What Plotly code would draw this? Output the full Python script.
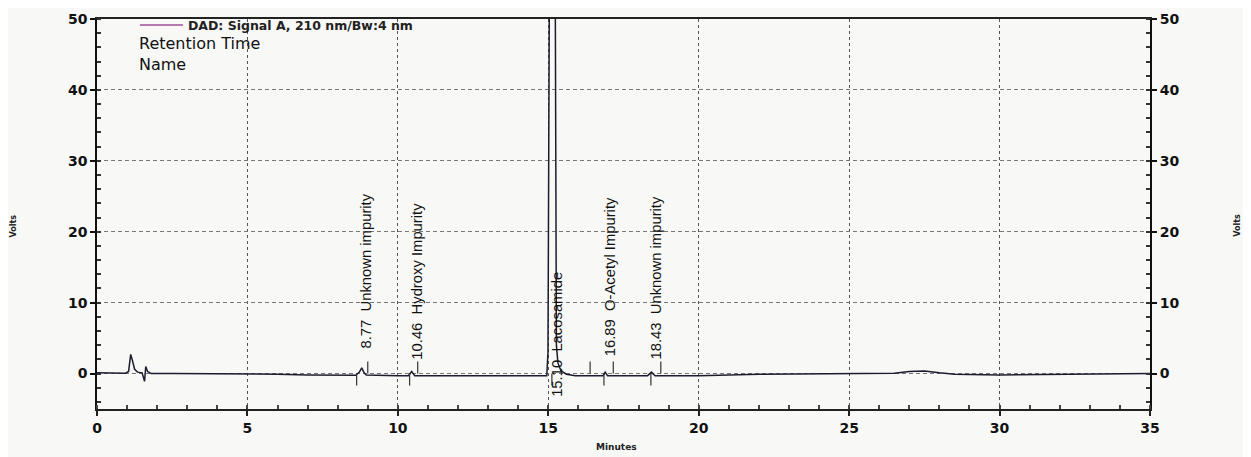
import plotly.graph_objects as go

# ---- data ----
time_min = [0.0, 0.5, 0.95, 1.05, 1.12, 1.18, 1.25, 1.35, 1.5, 1.58, 1.62, 1.68, 1.8, 2.5, 4.0, 5.0,
            6.0, 7.0, 8.0, 8.6, 8.72, 8.8, 8.88, 8.95, 10.0, 10.35, 10.46, 10.56, 12.0, 14.0, 14.95,
            14.99, 15.02, 15.05, 15.15, 15.22, 15.25, 15.27, 15.32, 15.42, 15.6, 15.9, 16.5, 16.82,
            16.89, 16.97, 18.3, 18.43, 18.55, 20.0, 22.0, 25.0, 26.5, 27.0, 27.5, 28.0, 28.5, 30.0,
            32.0, 35.0]
volts = [0.1, 0.05, 0.05, 0.3, 2.7, 1.8, 0.6, 0.2, 0.1, -1.1, 1.0, 0.3, 0.0, 0.0, -0.05, 0.0,
         -0.1, -0.2, -0.2, -0.25, 0.2, 0.8, 0.1, -0.2, -0.3, -0.3, 0.3, -0.3, -0.3, -0.3, -0.3,
         3.0, 40.0, 70.0, 90.0, 70.0, 30.0, 4.0, 1.5, 0.4, -0.1, -0.3, -0.3, -0.3,
         0.2, -0.3, -0.3, 0.2, -0.3, -0.3, -0.1, 0.0, 0.05, 0.3, 0.35, 0.1, -0.1, -0.2,
         -0.15, 0.0]

peak_rt = [8.77, 10.46, 15.10, 16.89, 18.43]
peak_name = ["Unknown impurity", "Hydroxy Impurity", "Lacosamide", "O-Acetyl Impurity", "Unknown impurity"]
peak_start = [8.63, 10.39, 15.12, 16.85, 18.41]
peak_end = [9.00, 10.66, 16.39, 17.16, 18.74]

signal_name = "DAD: Signal A, 210 nm/Bw:4 nm"
header_lines = ["Retention Time", "Name"]
x_ticks = [0, 5, 10, 15, 20, 25, 30, 35]
y_ticks = [0, 10, 20, 30, 40, 50]

# ---- styling ----
label_base = [3.3, 1.7, -3.6, 2.1, 1.7]
MARK_LEN = 1.7
BG = "#f8f8f6"

fig = go.Figure()

fig.add_trace(go.Scatter(x=time_min, y=volts, mode="lines", showlegend=False,
                         line=dict(color="#1c1c30", width=1.5), hoverinfo="skip"))

# event marks: start (down) and end (up)
mx, my = [], []
for t in peak_start:
    mx += [t, t, None]
    my += [0, -MARK_LEN, None]
for t in peak_end:
    mx += [t, t, None]
    my += [0, MARK_LEN, None]
fig.add_trace(go.Scatter(x=mx, y=my, mode="lines", showlegend=False,
                         line=dict(color="#333", width=1.2), hoverinfo="skip"))

# legend-only entry
fig.add_trace(go.Scatter(x=[None], y=[None], mode="lines", name=signal_name,
                         line=dict(color="#a0509a", width=1.5)))

# dummy trace for right axis
fig.add_trace(go.Scatter(x=[None], y=[None], yaxis="y2", showlegend=False, hoverinfo="skip"))

annotations = []
for rt, nm, yb in zip(peak_rt, peak_name, label_base):
    annotations.append(dict(x=rt, y=yb, xref="x", yref="y", text=f"{rt:.2f}\u00a0\u00a0{nm}",
                            textangle=-90, xanchor="center", yanchor="bottom", showarrow=False,
                            xshift=5, font=dict(family="Liberation Sans", size=14.8, color="#111")))

annotations += [
    dict(x=0.038, y=0.911, xref="paper", yref="paper", text="<br>".join(header_lines), showarrow=False,
         xanchor="left", yanchor="middle", align="left",
         font=dict(family="DejaVu Sans", size=16, color="#111")),
    dict(x=0.493, y=-0.097, xref="paper", yref="paper", text="Minutes", showarrow=False,
         xanchor="center", yanchor="middle", font=dict(family="DejaVu Sans", size=9, color="#222", weight="bold")),
    dict(x=-0.079, y=0.47, xref="paper", yref="paper", text="Volts", showarrow=False, textangle=-90,
         xanchor="center", yanchor="middle", font=dict(family="DejaVu Sans", size=8, color="#222", weight="bold")),
    dict(x=1.0836, y=0.47, xref="paper", yref="paper", text="Volts", showarrow=False, textangle=-90,
         xanchor="center", yanchor="middle", font=dict(family="DejaVu Sans", size=8, color="#222", weight="bold")),
]

fig.update_layout(
    width=1243, height=449,
    margin=dict(l=89, r=101, t=11, b=48, autoexpand=False),
    paper_bgcolor=BG, plot_bgcolor=BG,
    showlegend=True,
    legend=dict(x=0.036, y=1.022, xanchor="left", yanchor="top", bgcolor="rgba(0,0,0,0)",
                font=dict(family="DejaVu Sans", size=12.5, color="#222", weight="bold"),
                itemwidth=43, tracegroupgap=0),
    xaxis=dict(range=[0, 35], tickvals=x_ticks, ticktext=[str(v) for v in x_ticks],
               showgrid=True, gridcolor="#555", griddash="dot", gridwidth=1,
               showline=True, linecolor="#222", linewidth=2, mirror=True,
               ticks="outside", ticklen=5, tickcolor="#222", tickwidth=1.5,
               minor=dict(dtick=1, ticks="inside", ticklen=4, tickcolor="#444", showgrid=False),
               tickfont=dict(family="DejaVu Sans", size=14, color="#111", weight="bold"),
               zeroline=False),
    yaxis=dict(range=[-5, 50], tickvals=y_ticks, ticktext=[str(v) for v in y_ticks],
               showgrid=True, gridcolor="#777", griddash="4px,3px", gridwidth=1,
               showline=True, linecolor="#111", linewidth=1.5,
               ticks="outside", ticklen=5, tickcolor="#111", tickwidth=1.5,
               minor=dict(dtick=2, tick0=0, ticks="inside", ticklen=4, tickcolor="#333", showgrid=False),
               tickfont=dict(family="DejaVu Sans", size=14, color="#111", weight="bold"),
               zeroline=False),
    yaxis2=dict(range=[-5, 50], tickvals=y_ticks, ticktext=[str(v) for v in y_ticks],
                overlaying="y", side="right", anchor="x", showgrid=False,
                showline=True, linecolor="#111", linewidth=2,
                ticks="outside", ticklen=5, tickcolor="#111", tickwidth=1.5,
                minor=dict(dtick=2, tick0=0, ticks="inside", ticklen=4, tickcolor="#333", showgrid=False),
                tickfont=dict(family="DejaVu Sans", size=14, color="#111", weight="bold"),
                zeroline=False),
    annotations=annotations,
)

fig.write_html("out.html")
